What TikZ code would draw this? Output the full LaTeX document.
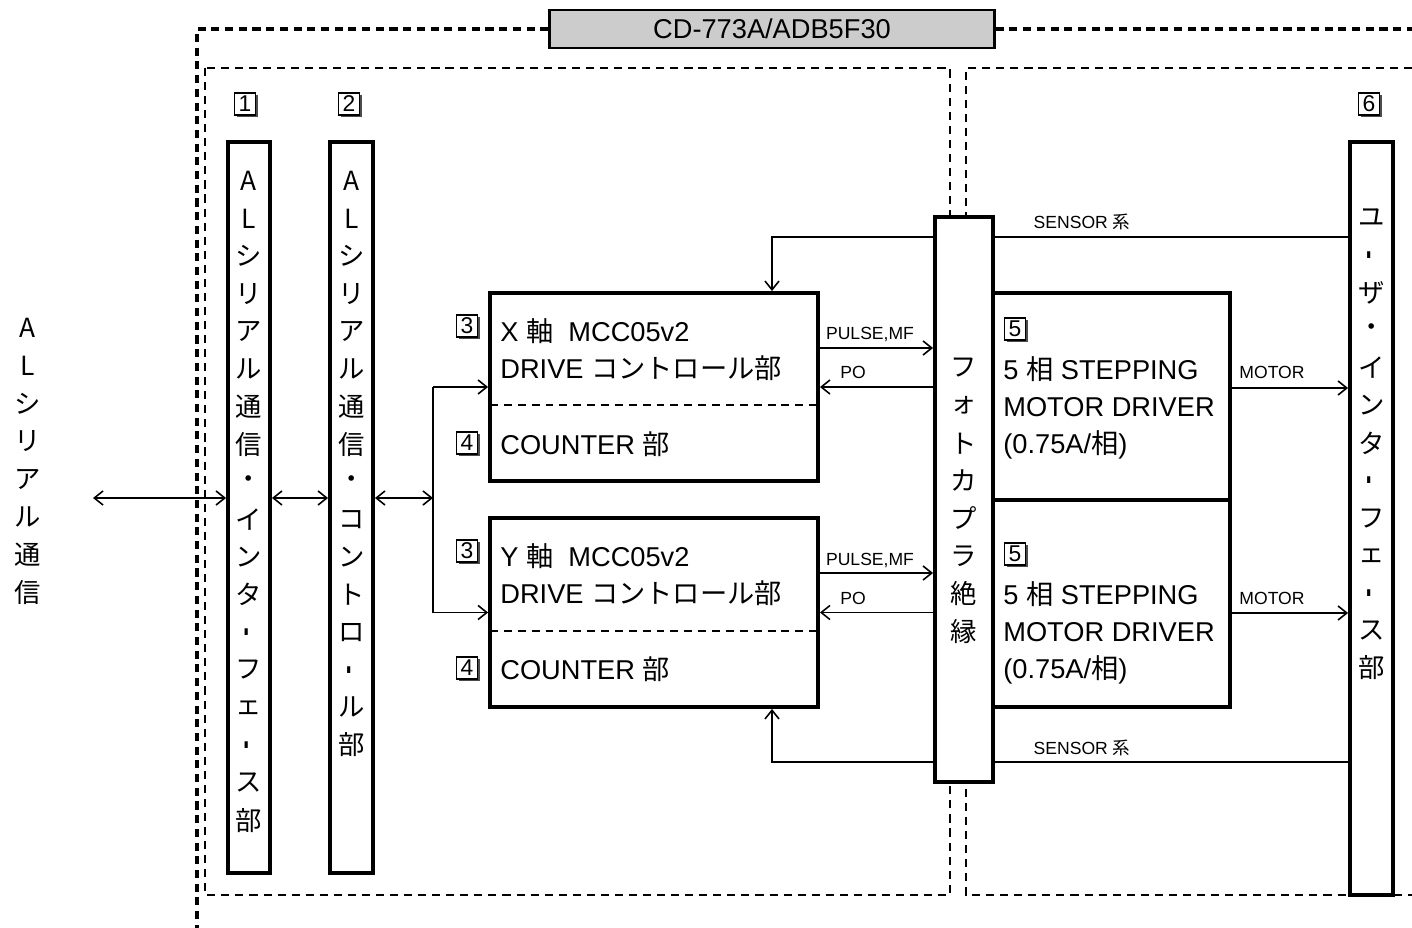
\documentclass[tikz,border=0pt]{standalone}
\usepackage{fontspec}
\setmainfont{Liberation Sans}
\newfontfamily\jp{Noto Sans CJK JP}
\usepackage{graphicx}
\usetikzlibrary{arrows.meta,positioning,fit,calc,shadows}
\newcommand{\chobar}{\rotatebox[origin=c]{90}{\rmfamily\bfseries -}}

\begin{document}
\begin{tikzpicture}[
  x=0.02cm, y=-0.02cm,
  blk/.style={draw, line width=2.2pt, fill=white, inner sep=0pt},
  vch/.style={font=\jp\fontsize{15}{15}\selectfont, inner sep=0pt},
  txt/.style={anchor=west, inner sep=0pt, font=\fontsize{15.5}{18}\selectfont},
  sig/.style={inner sep=0pt, font=\fontsize{10}{12}\selectfont},
  numbox/.style={draw, line width=1pt, fill=white, inner sep=0pt,
    minimum width=0.42cm, minimum height=0.44cm, font=\fontsize{13}{13}\selectfont,
    drop shadow={shadow xshift=1.2pt, shadow yshift=-1.2pt, fill=black!70, opacity=1}},
  outer/.style={line width=2.1pt, dash pattern=on 4.6pt off 3.2pt},
  inner/.style={line width=1pt, dash pattern=on 4.6pt off 3.4pt},
  divline/.style={line width=0.9pt, dash pattern=on 4.5pt off 3.4pt},
  wire/.style={line width=0.9pt},
  arr/.style={wire, -{Straight Barb[length=5pt,width=8pt]}},
  biarr/.style={wire, {Straight Barb[length=5pt,width=8pt]}-{Straight Barb[length=5pt,width=8pt]}}
]
\useasboundingbox (0,0) rectangle (1412,928);

% frame of the board
\node[draw, line width=1.4pt, fill=black!20, minimum width=8.9cm, minimum height=0.76cm,
  font=\fontsize{15.5}{18}\selectfont] (title) at (772,29) {CD-773A/ADB5F30};
\draw[outer] (title.west) -- (197,29) -- (197,928);
\draw[outer] (title.east) -- (1412,29);
\draw[inner] (205,68) rectangle (950,895);
\draw[inner] (1412,68) -- (966,68) -- (966,895) -- (1412,895);

% blocks
\node[blk, fit={(228,142) (270,873)}] (alif) {};
\node[blk, fit={(330,142) (373,873)}] (alctl) {};
\node[blk, fit={(490,293) (818,481)}] (xdrv) {};
\node[blk, fit={(490,518) (818,707)}] (ydrv) {};
\node[blk, fit={(935,217) (993,782)}] (photo) {};
\node[blk, fit={(993,293) (1230,500)}] (xmot) {};
\node[blk, fit={(993,500) (1230,707)}] (ymot) {};
\node[blk, fit={(1350,142) (1393,895)}] (usrif) {};

\draw[divline] (490,405) -- (818,405);
\draw[divline] (490,631) -- (818,631);

% vertical texts
\foreach \c [count=\i from 0] in {A,L,シ,リ,ア,ル,通,信}
  \node[vch] (ext-\i) at (28,328+37.8*\i) {\c};
\foreach \c [count=\i from 0] in {A,L,シ,リ,ア,ル,通,信,・,イ,ン,タ,\chobar,フ,ェ,\chobar,ス,部}
  \node[vch] (alif-\i) at (alif.center |- 0,181+37.6*\i) {\c};
\foreach \c [count=\i from 0] in {A,L,シ,リ,ア,ル,通,信,・,コ,ン,ト,ロ,\chobar,ル,部}
  \node[vch] (alctl-\i) at (alctl.center |- 0,181+37.6*\i) {\c};
\foreach \c [count=\i from 0] in {フ,ォ,ト,カ,プ,ラ,絶,縁}
  \node[vch] (photo-\i) at (photo.center |- 0,368+37.6*\i) {\c};
\foreach \c [count=\i from 0] in {ユ,\chobar,ザ,・,イ,ン,タ,\chobar,フ,ェ,\chobar,ス,部}
  \node[vch] (usrif-\i) at (usrif.center |- 0,218+37.5*\i) {\c};

% block texts
\node[txt] (xdrv-a) at (500,331) {X {\jp 軸}\ \ MCC05v2};
\node[txt] (xdrv-b) at (500,368) {DRIVE {\jp コントロール部}};
\node[txt] (xdrv-c) at (500,444) {COUNTER {\jp 部}};
\node[txt] (ydrv-a) at (500,556) {Y {\jp 軸}\ \ MCC05v2};
\node[txt] (ydrv-b) at (500,593) {DRIVE {\jp コントロール部}};
\node[txt] (ydrv-c) at (500,669) {COUNTER {\jp 部}};
\node[txt] (xmot-a) at (1003,369) {5 {\jp 相} STEPPING};
\node[txt] (xmot-b) at (1003,407) {MOTOR DRIVER};
\node[txt] (xmot-c) at (1003,445) {(0.75A/{\jp 相})};
\node[txt] (ymot-a) at (1003,594) {5 {\jp 相} STEPPING};
\node[txt] (ymot-b) at (1003,632) {MOTOR DRIVER};
\node[txt] (ymot-c) at (1003,670) {(0.75A/{\jp 相})};

% unit numbers
\node[numbox] (n1) at (245,104) {1};
\node[numbox] (n2) at (349,104) {2};
\node[numbox] (n3x) at (467,326) {3};
\node[numbox] (n4x) at (467,443) {4};
\node[numbox] (n3y) at (467,551) {3};
\node[numbox] (n4y) at (467,668) {4};
\node[numbox] (n5x) at (1015,329) {5};
\node[numbox] (n5y) at (1015,554) {5};
\node[numbox] (n6) at (1369,104) {6};

% serial link
\coordinate (ext) at (93,498);
\coordinate (bus) at (433,498);
\draw[biarr] (ext) -- (alif.west |- ext);
\draw[biarr] (alif.east |- ext) -- (alctl.west |- ext);
\draw[biarr] (alctl.east |- ext) -- (bus);
\draw[wire] (bus |- xdrv.west) -- (bus |- ydrv.west);
\draw[arr] (bus |- xdrv.west) -- (xdrv.west);
\draw[arr] (bus |- ydrv.west) -- (ydrv.west);

% drive signals
\draw[arr] (xdrv.east |- 0,348) -- (photo.west |- 0,348);
\draw[arr] (photo.west |- xdrv.east) -- (xdrv.east);
\draw[arr] (ydrv.east |- 0,573) -- (photo.west |- 0,573);
\draw[arr] (photo.west |- ydrv.east) -- (ydrv.east);
\node[sig] (pulx) at (870,334) {PULSE,MF};
\node[sig] (pox) at (853,372) {PO};
\node[sig] (puly) at (870,560) {PULSE,MF};
\node[sig] (poy) at (853,598) {PO};

\draw[arr] (xmot.east |- 0,388) -- (usrif.west |- 0,388);
\draw[arr] (ymot.east |- 0,613) -- (usrif.west |- 0,613);
\node[sig] (motx) at (1272,372) {MOTOR};
\node[sig] (moty) at (1272,598) {MOTOR};

% sensors
\coordinate (sx) at (772,237);
\coordinate (sy) at (772,762);
\draw[wire] (usrif.west |- sx) -- (photo.east |- sx);
\draw[arr] (photo.west |- sx) -- (sx) -- (sx |- xdrv.north);
\draw[wire] (usrif.west |- sy) -- (photo.east |- sy);
\draw[arr] (photo.west |- sy) -- (sy) -- (sy |- ydrv.south);
\node[sig] (senx) at (1082,222) {SENSOR {\jp 系}};
\node[sig] (seny) at (1082,748) {SENSOR {\jp 系}};

\end{tikzpicture}
\end{document}
